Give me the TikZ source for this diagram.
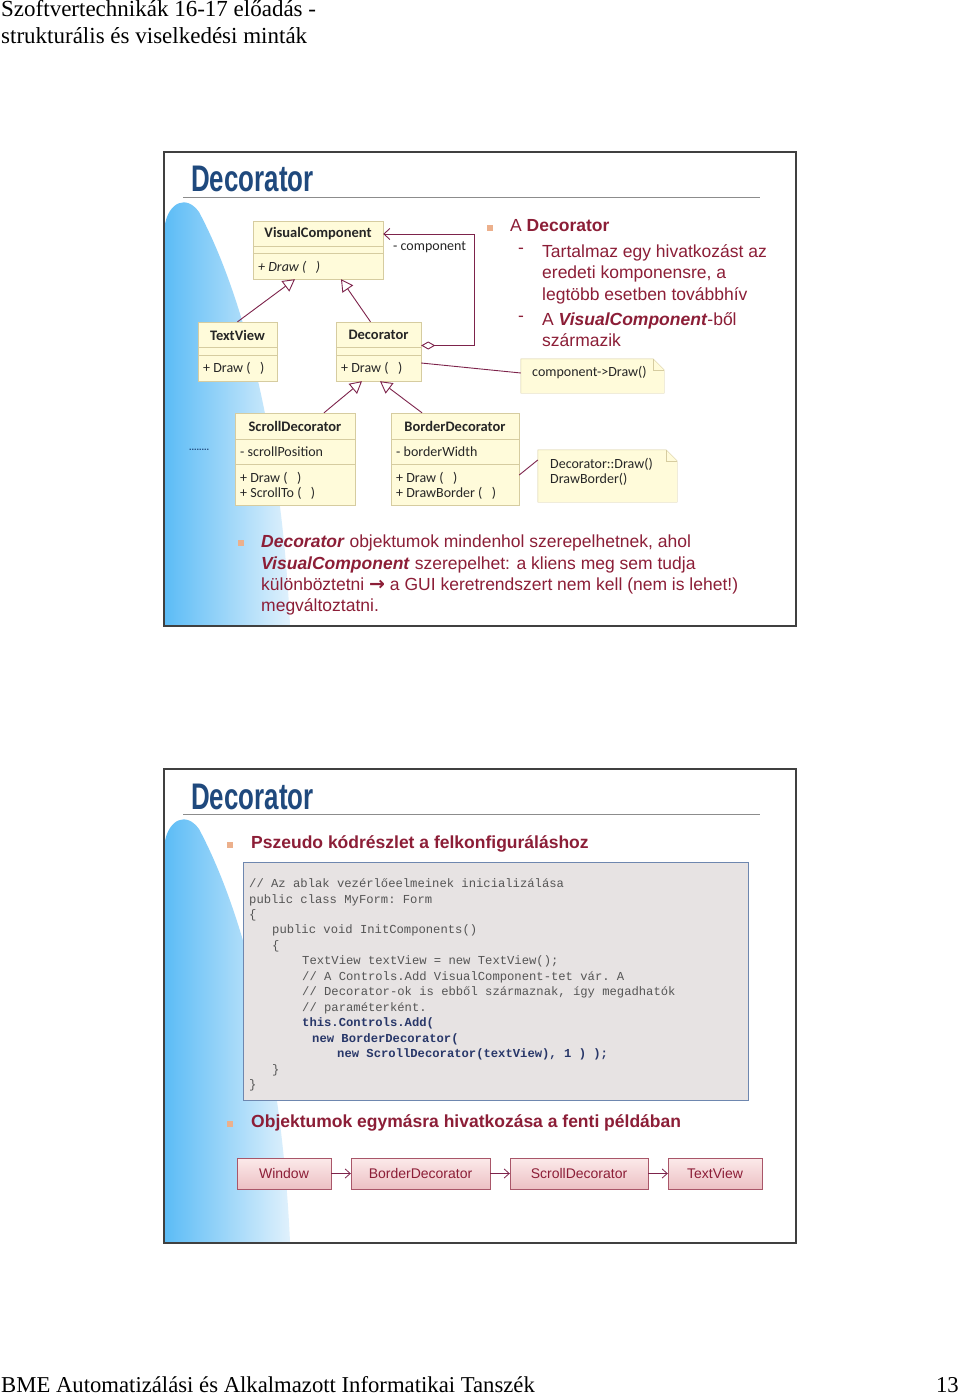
\documentclass[tikz,border=0pt]{standalone}
\usepackage{fontspec}
\setmainfont{Liberation Sans}
\setmonofont{Liberation Mono}
\newfontfamily\umlfont{Carlito}
\newfontfamily\headfont{Liberation Serif}
\newfontfamily\arrowfont{DejaVu Sans}
\newfontfamily\titlefont[FakeStretch=0.7]{Liberation Sans}
\usetikzlibrary{arrows.meta}
\definecolor{slidetitle}{RGB}{31,73,125}
\definecolor{textred}{RGB}{140,30,55}
\definecolor{umlline}{RGB}{125,35,75}
\definecolor{umlfill}{RGB}{255,251,218}
\definecolor{umldraw}{RGB}{214,204,160}
\definecolor{bulletsq}{RGB}{236,176,140}
\definecolor{codefill}{RGB}{231,227,227}
\definecolor{codedraw}{RGB}{110,135,175}
\definecolor{codegray}{RGB}{85,85,85}
\definecolor{codeblue}{RGB}{40,55,105}
\definecolor{skyleft}{RGB}{92,188,246}
\definecolor{skyright}{RGB}{224,241,252}
\definecolor{chaintop}{RGB}{252,234,234}
\definecolor{chainbot}{RGB}{236,192,196}
% compartment lines of a class box
\newcommand{\classlines}[3]{%
  \draw[umldraw] ([yshift=-#2pt]#1.north west) -- ([yshift=-#2pt]#1.north east);
  \draw[umldraw] ([yshift=-#3pt]#1.north west) -- ([yshift=-#3pt]#1.north east);}
% note outline with folded corner
\newcommand{\umlnote}[1]{%
  \draw[umldraw,fill=umlfill] (#1.north west) -- ([xshift=-11pt]#1.north east) -- ([yshift=-11pt]#1.north east) -- (#1.south east) -- (#1.south west) -- cycle;
  \draw[umldraw] ([xshift=-11pt]#1.north east) |- ([yshift=-11pt]#1.north east);}
\begin{document}
\begin{tikzpicture}[x=1pt,y=-1pt,
  classbox/.style={draw=umldraw,fill=umlfill,inner sep=0pt},
  umlname/.style={font=\umlfont\bfseries\fontsize{14.5}{16}\selectfont,inner sep=0pt,text=black!85},
  umltext/.style={font=\umlfont\fontsize{14}{15}\selectfont,inner sep=0pt,text=black!85,anchor=west},
  umlarrow/.style={draw=umlline,line width=0.9pt},
  inherit/.style={umlarrow,-{Triangle[length=12pt,width=13pt,fill=white]}},
  slidebox/.style={draw=black!75,line width=1.6pt},
  bullet/.style={fill=bulletsq,minimum size=6pt,inner sep=0pt},
  redtext/.style={text=textred,inner sep=0pt,font=\fontsize{17.5}{21.5}\selectfont},
  chainbox/.style={draw=textred!75,top color=chaintop,bottom color=chainbot,inner sep=0pt,minimum height=31pt,font=\fontsize{14}{16}\selectfont,text=textred}]
\fill[white] (0,0) rectangle (960,1396);
\useasboundingbox (0,0) rectangle (960,1396);

% page header and footer
\node[anchor=north west,inner sep=0pt,align=left,font=\headfont\fontsize{23}{27}\selectfont] (hdr) at (1,0.5) {Szoftvertechnikák 16-17 előadás -\\strukturális és viselkedési minták};
\node[anchor=west,inner sep=0pt,font=\headfont\fontsize{22.7}{27}\selectfont] (foot) at (1,1385) {BME Automatizálási és Alkalmazott Informatikai Tanszék};
\node[anchor=east,inner sep=0pt,font=\headfont\fontsize{22.7}{27}\selectfont] (pageno) at (959,1385) {13};

% both slides: background curve, frame, title
\foreach \s/\dy in {1/0,2/617} {
  \shade[left color=skyleft,right color=skyright] (165,224+\dy) .. controls (169,203+\dy) and (186,194+\dy) .. (199,212+\dy) .. controls (246,300+\dy) and (282,450+\dy) .. (290,625+\dy) -- (165,625+\dy) -- cycle;
  \draw[slidebox] (164,152+\dy) rectangle (796,626+\dy);
  \node[anchor=base west,inner sep=0pt,text=slidetitle,font=\titlefont\bfseries\fontsize{37}{40}\selectfont] (title\s) at (191,192+\dy) {Decorator};
  \draw[black!45,line width=0.8pt] (183,197.5+\dy) -- (760,197.5+\dy);
}

% ---- slide 1: class diagram
\node[classbox,minimum width=130pt,minimum height=58pt] (vc) at (318,250) {};
\classlines{vc}{25}{32}
\node[umlname] (vcname) at (318,234) {VisualComponent};
\node[umltext,font=\umlfont\itshape\fontsize{14}{15}\selectfont] (vcop) at (258,267) {+ Draw (\ \ \ )};

\node[classbox,minimum width=79pt,minimum height=59pt] (tv) at (237.5,351.5) {};
\classlines{tv}{25}{33}
\node[umlname] (tvname) at (237.5,335) {TextView};
\node[umltext] (tvop) at (203,368) {+ Draw (\ \ \ )};

\node[classbox,minimum width=85pt,minimum height=59pt] (dec) at (378.5,351.5) {};
\classlines{dec}{25}{33}
\node[umlname] (decname) at (378.5,335) {Decorator};
\node[umltext] (decop) at (341,368) {+ Draw (\ \ \ )};

\node[classbox,minimum width=120pt,minimum height=92pt] (sd) at (295,459) {};
\classlines{sd}{26}{51}
\node[umlname] (sdname) at (295,426) {ScrollDecorator};
\node[umltext] (sdattr) at (240,452) {- scrollPosition};
\node[umltext,align=left] (sdop) at (240,485.5) {+ Draw (\ \ \ )\\+ ScrollTo (\ \ \ )};

\node[classbox,minimum width=128pt,minimum height=92pt] (bd) at (455,459) {};
\classlines{bd}{26}{51}
\node[umlname] (bdname) at (455,426) {BorderDecorator};
\node[umltext] (bdattr) at (396,452) {- borderWidth};
\node[umltext,align=left] (bdop) at (396,485.5) {+ Draw (\ \ \ )\\+ DrawBorder (\ \ \ )};

\node[inner sep=0pt,minimum width=143pt,minimum height=34pt] (n1) at (592.5,376) {};
\umlnote{n1}
\node[umltext] (n1text) at (532,373) {component->Draw()};
\node[inner sep=0pt,minimum width=139pt,minimum height=52pt] (n2) at (607.5,476) {};
\umlnote{n2}
\node[umltext,align=left] (n2text) at (550,472) {Decorator::Draw()\\DrawBorder()};

\node[text=slidetitle,inner sep=0pt,font=\bfseries\fontsize{9}{10}\selectfont] (dots) at (199,450) {........};

% connectors
\draw[inherit] (tv.north) -- ([xshift=-23pt]vc.south);
\draw[inherit] ([xshift=-8pt]dec.north) -- ([xshift=23pt]vc.south);
\draw[inherit] ([xshift=29pt]sd.north) -- ([xshift=-16.5pt]dec.south);
\draw[inherit] ([xshift=-33pt]bd.north) -- ([xshift=1.5pt]dec.south);
\draw[umlarrow,{Straight Barb[length=6pt,width=11pt]}-{Diamond[length=14pt,width=8pt,fill=white]}] ([yshift=16pt]vc.east) -- ++(91,0) |- ([yshift=6pt]dec.east);
\node[umltext] (comp) at (393,247) {- component};
\draw[umlarrow] ([yshift=-11.5pt]dec.east) -- ([yshift=3pt]n1.west);
\draw[umlarrow] ([yshift=-16pt]bd.east) -- ([yshift=16pt]n2.west);

% bullets on slide 1
\node[bullet] (b1) at (490,228) {};
\node[redtext,anchor=west] (t1) at (510,226) {A \textbf{Decorator}};
\node[redtext,anchor=west] (d1) at (518,251) {-};
\node[redtext,anchor=north west,align=left] (t2) at (542,244) {Tartalmaz egy hivatkozást az\\eredeti komponensre, a\\legtöbb esetben továbbhív};
\node[redtext,anchor=west] (d2) at (518,319) {-};
\node[redtext,anchor=north west,align=left] (t3) at (542,312) {A \textbf{\textit{VisualComponent}}-ből\\származik};

\node[bullet] (b2) at (241,543) {};
\node[redtext,anchor=north west,align=left,font=\fontsize{17.5}{21.3}\selectfont] (t4) at (261,535) {\textbf{\textit{Decorator}} objektumok mindenhol szerepelhetnek, ahol\\\textbf{\textit{VisualComponent}} szerepelhet: a kliens meg sem tudja\\különböztetni {\arrowfont\bfseries\fontsize{19}{19}\selectfont →} a GUI keretrendszert nem kell (nem is lehet!)\\megváltoztatni.};

% ---- slide 2: code and object chain
\node[bullet] (b3) at (230,845) {};
\node[redtext,anchor=west,font=\bfseries\fontsize{17.5}{20}\selectfont] (t5) at (251,844) {Pszeudo kódrészlet a felkonfiguráláshoz};

\node[draw=codedraw,fill=codefill,line width=0.8pt,inner sep=0pt,minimum width=505pt,minimum height=238pt] (code) at (495.5,981) {};
\node[anchor=north west,inner sep=0pt,align=left,text=codegray,font=\ttfamily\fontsize{12.2}{15.46}\selectfont] (codetext) at (249,878.5) {%
// Az ablak vezérlőeelmeinek inicializálása\\
public class MyForm: Form\\
\{\\
\hspace*{23pt}public void InitComponents()\\
\hspace*{23pt}\{\\
\hspace*{53pt}TextView textView = new TextView();\\
\hspace*{53pt}// A Controls.Add VisualComponent-tet vár. A\\
\hspace*{53pt}// Decorator-ok is ebből származnak, így megadhatók\\
\hspace*{53pt}// paraméterként.\\
\hspace*{53pt}\textcolor{codeblue}{\bfseries this.Controls.Add(}\\
\hspace*{63pt}\textcolor{codeblue}{\bfseries new BorderDecorator(}\\
\hspace*{88pt}\textcolor{codeblue}{\bfseries new ScrollDecorator(textView), 1 ) );}\\
\hspace*{23pt}\}\\
\}};

\node[bullet] (b4) at (230,1124) {};
\node[redtext,anchor=west,font=\bfseries\fontsize{17.5}{20}\selectfont] (t6) at (251,1123) {Objektumok egymásra hivatkozása a fenti példában};

\foreach \n/\x/\w/\t in {win/284/94/Window,bdn/420.5/139/BorderDecorator,sdn/579/138/ScrollDecorator,tvn/715/94/TextView}
  \node[chainbox,minimum width=\w pt] (\n) at (\x,1173.5) {\t};
\foreach \a/\b in {win/bdn,bdn/sdn,sdn/tvn}
  \draw[umlline,line width=0.8pt,-{Straight Barb[length=5pt,width=9pt]}] (\a) -- (\b);
\end{tikzpicture}
\end{document}
